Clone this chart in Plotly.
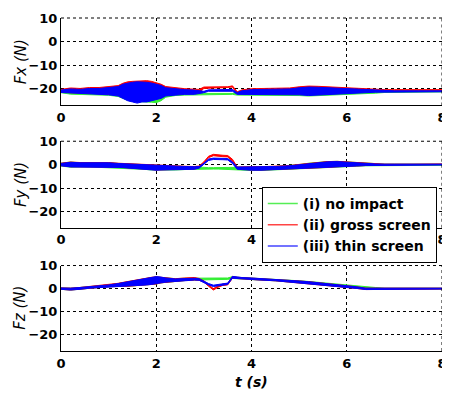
import plotly.graph_objects as go

# time samples (s)
T = [0.0, 0.2, 0.4, 0.6, 0.8, 1.0, 1.2, 1.3, 1.4, 1.5, 1.6, 1.7, 1.8, 1.9, 2.0, 2.1, 2.2,
     2.4, 2.6, 2.8, 2.9, 3.0, 3.1, 3.2, 3.3, 3.4, 3.5, 3.6, 3.7, 3.8, 4.0, 4.2, 4.5, 4.8,
     5.0, 5.2, 5.4, 5.6, 5.8, 6.0, 6.2, 6.4, 6.6, 6.8, 7.0, 7.5, 8.0]

SERIES = ["(i) no impact", "(ii) gross screen", "(iii) thin screen"]
COLORS = ["#33ee33", "#ff0000", "#0000ff"]
LEGEND_COLORS = ["#55ee55", "#ff4444", "#4444ff"]

# ---- Fx (N): lower / upper envelope of the measured signal ----
fx_green_lo = [-21.6, -22.2, -22.3, -22.5, -22.5, -22.7, -23.2, -24.0, -24.8, -25.3, -25.5, -25.5, -25.6, -25.6, -25.8, -25.0, -23.5,
               -22.8, -22.6, -22.6, -22.3, -22.3, -22.3, -22.3, -22.3, -22.3, -22.3, -22.3, -22.6, -22.8, -22.8, -22.6, -22.6, -22.8,
               -22.8, -23.0, -22.8, -22.8, -22.6, -22.4, -22.2, -22.0, -21.8, -21.5, -21.3, -21.3, -21.3]
fx_green_hi = [-20.6, -20.3, -20.4, -20.2, -20.2, -20.0, -19.6, -18.8, -18.2, -18.0, -17.8, -17.8, -18.0, -18.3, -18.6, -19.0, -19.8,
               -20.3, -20.6, -20.8, -21.0, -21.9, -21.9, -21.9, -21.9, -21.9, -21.9, -21.9, -21.9, -21.2, -20.6, -20.6, -20.5, -20.3,
               -19.8, -19.6, -19.6, -19.8, -20.0, -20.3, -20.6, -20.8, -21.0, -21.2, -21.2, -21.2, -21.2]
fx_red_lo = [-21.2, -21.6, -21.8, -21.9, -22.0, -22.1, -22.5, -23.3, -24.2, -24.8, -25.2, -25.0, -25.0, -24.6, -24.0, -23.5, -22.6,
             -22.1, -21.9, -21.9, -21.6, -19.8, -19.5, -19.5, -19.5, -19.5, -19.5, -19.2, -22.0, -22.1, -22.1, -21.9, -21.9, -22.1,
             -22.1, -22.4, -22.1, -22.1, -21.9, -21.6, -21.3, -21.1, -20.9, -20.7, -20.7, -20.7, -20.7]
fx_red_hi = [-20.2, -19.6, -19.8, -19.4, -19.4, -19.1, -18.6, -17.6, -17.0, -16.8, -16.6, -16.5, -16.5, -16.8, -17.4, -18.0, -19.0,
             -19.6, -19.9, -20.1, -20.2, -19.2, -19.1, -19.1, -19.1, -19.1, -19.1, -18.7, -21.2, -20.4, -19.9, -19.9, -19.8, -19.6,
             -19.1, -18.8, -18.9, -19.1, -19.4, -19.6, -19.9, -20.1, -20.3, -20.3, -20.3, -20.3, -20.3]
fx_blue_lo = [-21.5, -22.0, -22.0, -22.3, -22.3, -22.5, -23.0, -24.0, -25.0, -25.5, -26.0, -25.5, -25.5, -25.0, -24.5, -24.0, -23.0,
              -22.5, -22.3, -22.3, -22.0, -21.6, -21.0, -21.0, -21.0, -21.0, -21.0, -21.0, -22.3, -22.5, -22.5, -22.3, -22.3, -22.5,
              -22.5, -22.8, -22.5, -22.5, -22.3, -22.0, -21.8, -21.6, -21.4, -21.2, -21.2, -21.2, -21.2]
fx_blue_hi = [-20.5, -20.0, -20.2, -19.8, -19.8, -19.5, -19.0, -18.0, -17.5, -17.2, -17.0, -17.0, -17.2, -17.5, -18.0, -18.5, -19.5,
              -20.0, -20.3, -20.5, -20.8, -21.0, -20.4, -20.4, -20.4, -20.4, -20.4, -20.2, -21.5, -20.8, -20.3, -20.3, -20.2, -20.0,
              -19.5, -19.2, -19.3, -19.5, -19.8, -20.0, -20.3, -20.5, -20.7, -20.8, -20.8, -20.8, -20.8]

# ---- Fy (N) ----
fy_green_lo = [-0.6, -1.1, -1.0, -1.0, -1.2, -1.2, -1.3, -1.4, -1.6, -1.7, -1.9, -2.0, -2.1, -2.3, -2.5, -2.4, -2.3,
               -2.3, -2.1, -2.1, -1.9, -1.9, -1.9, -1.9, -1.9, -1.9, -1.9, -1.9, -2.1, -2.3, -2.5, -2.5, -2.4, -2.1,
               -1.9, -1.6, -1.6, -1.4, -1.1, -0.9, -0.7, -0.5, -0.4, -0.3, -0.3, -0.3, -0.3]
fy_green_hi = [0.6, 1.1, 0.8, 0.9, 1.0, 0.8, 0.5, 0.4, 0.3, 0.2, 0.0, -0.1, -0.2, -0.3, -0.5, -0.6, -0.7,
               -0.8, -0.8, -0.9, -1.1, -1.3, -1.3, -1.3, -1.3, -1.3, -1.3, -1.3, -1.1, -1.0, -1.0, -1.0, -0.8, -0.5,
               0.0, 0.6, 1.1, 1.3, 1.4, 1.1, 0.8, 0.5, 0.3, 0.2, 0.2, 0.2, 0.2]
fy_red_lo = [-0.4, -0.9, -0.9, -0.9, -1.1, -1.1, -1.1, -1.2, -1.4, -1.5, -1.7, -1.8, -1.9, -2.1, -2.3, -2.2, -2.1,
             -2.1, -1.9, -1.9, -1.3, 0.5, 3.0, 3.8, 3.5, 3.4, 3.3, 1.5, -1.8, -2.1, -2.3, -2.3, -2.2, -1.9,
             -1.7, -1.4, -1.4, -1.2, -0.9, -0.7, -0.5, -0.3, -0.2, -0.1, -0.1, -0.1, -0.1]
fy_red_hi = [0.6, 1.1, 0.9, 0.9, 1.1, 0.9, 0.6, 0.5, 0.4, 0.3, 0.1, 0.0, -0.1, -0.2, -0.4, -0.5, -0.6,
             -0.7, -0.7, -0.8, -0.6, 1.2, 3.6, 4.4, 4.1, 4.0, 3.9, 2.3, -1.0, -0.9, -0.9, -0.9, -0.7, -0.4,
             0.1, 0.6, 1.1, 1.3, 1.4, 1.1, 0.8, 0.5, 0.3, 0.2, 0.2, 0.2, 0.2]
fy_blue_lo = [-0.5, -1.0, -1.0, -1.0, -1.2, -1.2, -1.2, -1.3, -1.5, -1.6, -1.8, -1.9, -2.0, -2.2, -2.4, -2.3, -2.2,
              -2.2, -2.0, -2.0, -1.5, 0.0, 1.8, 2.2, 2.2, 2.1, 2.0, 0.5, -2.0, -2.2, -2.4, -2.4, -2.3, -2.0,
              -1.8, -1.5, -1.5, -1.3, -1.0, -0.8, -0.6, -0.4, -0.3, -0.2, -0.2, -0.2, -0.2]
fy_blue_hi = [0.5, 1.0, 0.8, 0.8, 1.0, 0.8, 0.5, 0.4, 0.3, 0.2, 0.0, -0.1, -0.2, -0.3, -0.5, -0.6, -0.7,
              -0.8, -0.8, -0.9, -0.8, 0.6, 2.4, 2.8, 2.7, 2.6, 2.6, 1.2, -1.0, -1.0, -1.0, -1.0, -0.8, -0.5,
              0.0, 0.5, 1.0, 1.2, 1.3, 1.0, 0.7, 0.4, 0.3, 0.2, 0.2, 0.2, 0.2]

# ---- Fz (N) ----
fz_green_lo = [-0.3, -0.6, -0.3, 0.2, 0.5, 0.8, 1.0, 1.0, 1.0, 1.2, 1.3, 1.5, 1.6, 1.8, 2.0, 2.5, 2.8,
               3.2, 3.5, 3.7, 3.8, 4.0, 4.0, 4.0, 4.0, 4.0, 4.0, 4.4, 4.2, 4.0, 3.9, 3.7, 3.4, 2.9,
               2.6, 2.2, 1.8, 1.4, 1.0, 0.5, 0.2, 0.0, -0.2, -0.2, -0.2, -0.2, -0.2]
fz_green_hi = [0.3, 0.2, 0.5, 0.8, 1.2, 1.6, 2.2, 2.6, 3.0, 3.4, 3.8, 4.0, 4.3, 4.8, 5.0, 4.8, 4.6,
               4.3, 4.5, 4.6, 4.6, 4.6, 4.6, 4.6, 4.6, 4.6, 4.6, 5.2, 4.9, 4.8, 4.7, 4.5, 4.2, 3.7,
               3.4, 3.1, 2.7, 2.3, 1.9, 1.4, 1.0, 0.8, 0.5, 0.2, 0.2, 0.2, 0.2]
fz_red_lo = [-0.3, -0.6, -0.3, 0.2, 0.5, 0.8, 1.0, 1.0, 1.0, 1.2, 1.3, 1.5, 1.6, 1.8, 2.0, 2.5, 2.8,
             3.2, 3.5, 3.7, 3.6, 2.8, 1.0, -0.6, 0.6, 1.4, 1.6, 4.5, 4.2, 4.0, 3.9, 3.7, 3.4, 2.9,
             2.6, 2.2, 1.8, 1.4, 1.0, 0.5, 0.1, -0.4, -0.3, -0.2, -0.2, -0.2, -0.2]
fz_red_hi = [0.3, 0.2, 0.5, 0.9, 1.3, 1.7, 2.3, 2.7, 3.1, 3.5, 3.9, 4.2, 4.5, 4.9, 5.1, 4.9, 4.6,
             4.3, 4.6, 4.8, 4.4, 3.4, 1.6, 0.0, 1.2, 2.0, 2.2, 5.3, 4.9, 4.8, 4.6, 4.4, 4.1, 3.6,
             3.3, 3.0, 2.6, 2.2, 1.8, 1.3, 0.8, 0.2, 0.2, 0.2, 0.2, 0.2, 0.2]
fz_blue_lo = [-0.3, -0.6, -0.3, 0.2, 0.5, 0.8, 1.0, 1.0, 1.0, 1.2, 1.3, 1.5, 1.6, 1.8, 2.0, 2.5, 2.8,
              3.2, 3.5, 3.7, 3.6, 2.6, 1.6, 0.9, 1.3, 1.6, 1.8, 4.5, 4.2, 4.0, 3.9, 3.7, 3.4, 2.9,
              2.6, 2.2, 1.8, 1.4, 1.0, 0.5, 0.1, -0.4, -0.3, -0.2, -0.2, -0.2, -0.2]
fz_blue_hi = [0.3, 0.2, 0.5, 0.8, 1.2, 1.6, 2.2, 2.6, 3.0, 3.4, 3.8, 4.0, 4.3, 4.8, 5.2, 5.0, 4.6,
              4.2, 4.5, 4.5, 4.3, 3.2, 2.2, 1.5, 1.9, 2.2, 2.4, 5.3, 4.9, 4.8, 4.6, 4.4, 4.1, 3.6,
              3.3, 3.0, 2.6, 2.2, 1.8, 1.3, 0.8, 0.2, 0.2, 0.2, 0.2, 0.2, 0.2]

PANELS = [
    ("Fx (N)", [(fx_green_lo, fx_green_hi), (fx_red_lo, fx_red_hi), (fx_blue_lo, fx_blue_hi)]),
    ("Fy (N)", [(fy_green_lo, fy_green_hi), (fy_red_lo, fy_red_hi), (fy_blue_lo, fy_blue_hi)]),
    ("Fz (N)", [(fz_green_lo, fz_green_hi), (fz_red_lo, fz_red_hi), (fz_blue_lo, fz_blue_hi)]),
]

Y_TICKS = [10, 0, -10, -20]
X_TICKS = [0, 2, 4, 6, 8]

FONT = "DejaVu Sans"
fig = go.Figure()

domains = [[0.7373, 1.0], [0.3701, 0.6299], [0.0, 0.2567]]

for p, (title, bands) in enumerate(PANELS):
    xa = "x" if p == 0 else f"x{p+1}"
    ya = "y" if p == 0 else f"y{p+1}"
    for s, (lo, hi) in enumerate(bands):
        fig.add_trace(go.Scatter(
            x=T + T[::-1], y=hi + lo[::-1], mode="lines", fill="toself",
            fillcolor=COLORS[s], line=dict(color=COLORS[s], width=1),
            xaxis=xa, yaxis=ya, showlegend=False, hoverinfo="skip"))

# legend entries
for s in range(3):
    fig.add_trace(go.Scatter(x=[None], y=[None], mode="lines", name=SERIES[s],
                             line=dict(color=LEGEND_COLORS[s], width=1.5),
                             xaxis="x2", yaxis="y2"))

DASH = "3px,3px"
axis_common = dict(
    showline=True, linecolor="black", linewidth=1, mirror=False,
    showgrid=True, gridcolor="black", griddash=DASH, gridwidth=1,
    ticks="outside", ticklen=0, zeroline=False,
    tickfont=dict(family=FONT, size=13, color="black", weight="bold"),
    ticklabeloverflow="allow",
)

for p in range(3):
    sx = "" if p == 0 else str(p + 1)
    fig.update_layout(**{
        f"xaxis{sx}": dict(axis_common, domain=[0, 1], range=[0, 8], tickvals=X_TICKS,
                           anchor=f"y{sx}"),
        f"yaxis{sx}": dict(axis_common, domain=domains[p], range=[-27, 10], tickvals=Y_TICKS,
                           anchor=f"x{sx}"),
    })

annotations = []
for p, (title, _) in enumerate(PANELS):
    d = domains[p]
    annotations.append(dict(
        text=f"<i>{title}</i>", xref="paper", yref="paper",
        x=-0.106, y=(d[0] + d[1]) / 2, textangle=-90, showarrow=False,
        xanchor="center", yanchor="middle",
        font=dict(family=FONT, size=15, color="black")))
annotations.append(dict(
    text="<i><b>t (s)</b></i>", xref="paper", yref="paper", x=0.5, y=-0.0925,
    showarrow=False, xanchor="center", yanchor="middle",
    font=dict(family=FONT, size=14, color="black")))

# dashed top and right edges of each panel
shapes = []
for p in range(3):
    d = domains[p]
    shapes.append(dict(type="line", xref="paper", yref="paper", x0=0, x1=1, y0=d[1], y1=d[1],
                       line=dict(color="black", width=1, dash=DASH)))
    shapes.append(dict(type="line", xref="paper", yref="paper", x0=1, x1=1, y0=d[0], y1=d[1],
                       line=dict(color="black", width=1, dash=DASH)))

# the page adds an 8px body margin, so the figure is 8px smaller than the window
fig.update_layout(
    width=442, height=387,
    margin=dict(l=53, r=3, t=8, b=44),
    paper_bgcolor="white", plot_bgcolor="white",
    annotations=annotations, shapes=shapes,
    legend=dict(x=0.527, y=0.4925, xanchor="left", yanchor="top",
                bgcolor="white", bordercolor="black", borderwidth=1,
                font=dict(family=FONT, size=14, color="black", weight="bold"),
                tracegroupgap=0, itemwidth=30),
    showlegend=True,
)

fig.write_html("out.html")
